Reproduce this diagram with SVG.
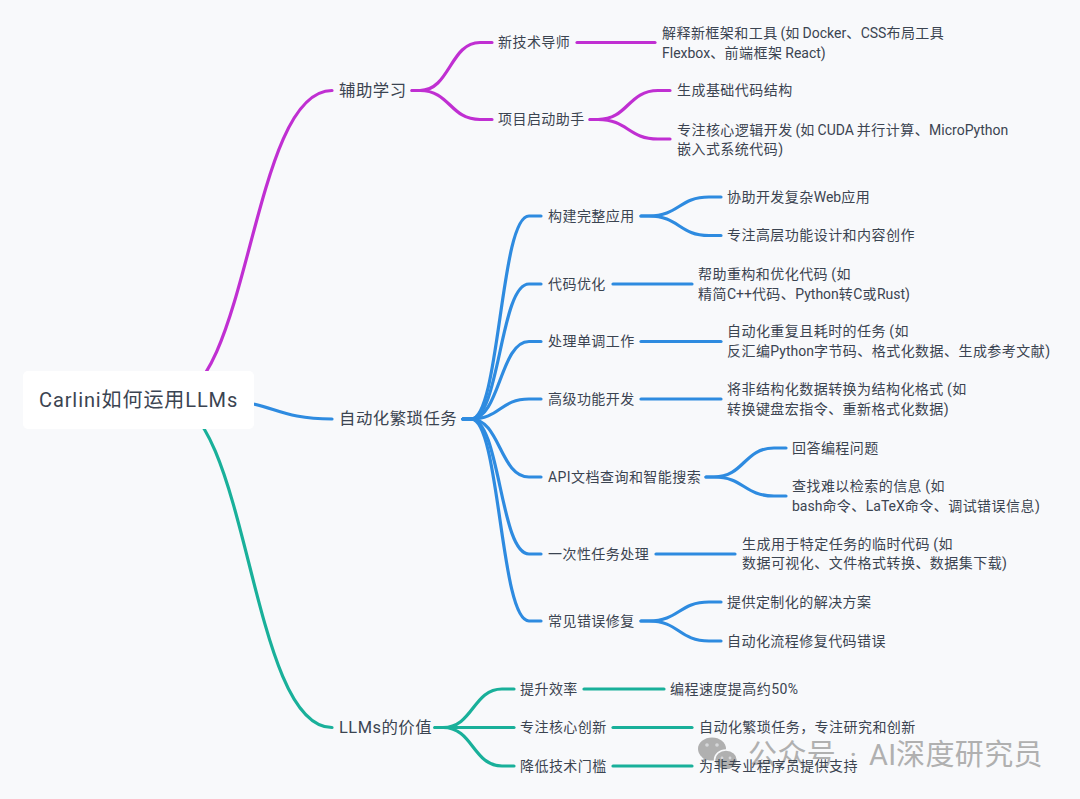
<svg xmlns="http://www.w3.org/2000/svg" width="1080" height="799" viewBox="0 0 1080 799">
<style>
text{font-family:"Roboto","Noto Sans CJK SC","Noto Sans",sans-serif;fill:#3b4451;dominant-baseline:central}
.t3{font-size:14px;letter-spacing:.45px;word-spacing:-.6px;transform:translateY(.5px)}
.t1{font-size:16.400px;letter-spacing:.5px}
.l{letter-spacing:0}
.root{font-size:20px;letter-spacing:.9px}
#edges path{fill:none;stroke-width:3.2;stroke-linecap:round}
.p{stroke:#c02fd2}
.b{stroke:#2e8be0}
.g{stroke:#19b09a}
#mark text{font-size:29px;fill:#b0b0b0;letter-spacing:.4px}
#mark .bubble{fill:#b0b0b0}
#mark .eye{fill:#d6d7d9}
</style>
<rect width="1080" height="799" fill="#f8f9fb"/>
<g id="mark">
<ellipse class="bubble" cx="712" cy="749" rx="14" ry="11.500"/>
<path class="bubble" d="M704 757l-2 6 7-4z"/>
<ellipse class="bubble" cx="726" cy="760" rx="11.500" ry="10" stroke="#f8f9fb" stroke-width="1.500"/>
<circle class="eye" cx="707" cy="745" r="1.800"/><circle class="eye" cx="717" cy="745" r="1.800"/>
<circle class="eye" cx="722" cy="758" r="1.400"/><circle class="eye" cx="730" cy="758" r="1.400"/>
<text x="748" y="755">公众号<tspan x="842"> ·</tspan><tspan x="869">AI</tspan><tspan x="896">深度研究员</tspan></text>
</g>
<g id="edges">
<!-- root to first-level branches -->
<path class="p" d="M168 400C250 400 250 90.500 332 90.500"/>
<path class="b" d="M214 400C273 400 273 419 332 419"/>
<path class="g" d="M166 400C249 400 249 727.500 332 727.500"/>
<!-- assisted learning branch -->
<path class="p" d="M412 90.500H420C450 90.500 450 42.500 480 42.500H492"/>
<path class="p" d="M412 90.500H420C450 90.500 450 119.500 480 119.500H492"/>
<path class="p" d="M577 42.500H655"/>
<path class="p" d="M590 119.500H598C628 119.500 628 90.500 658 90.500H670"/>
<path class="p" d="M590 119.500H598C628 119.500 628 139 658 139H670"/>
<!-- automation branch -->
<path class="b" d="M463 419H471C500 419 500 216 529 216H541"/>
<path class="b" d="M463 419H471C500 419 500 284 529 284H541"/>
<path class="b" d="M463 419H471C500 419 500 341.500 529 341.500H541"/>
<path class="b" d="M463 419H471C500 419 500 399 529 399H541"/>
<path class="b" d="M463 419H471C500 419 500 477 529 477H541"/>
<path class="b" d="M463 419H471C500 419 500 554 529 554H541"/>
<path class="b" d="M463 419H471C500 419 500 621 529 621H541"/>
<path class="b" d="M641 216H649C679 216 679 197 709 197H721"/>
<path class="b" d="M641 216H649C679 216 679 235.500 709 235.500H721"/>
<path class="b" d="M613 284H692"/>
<path class="b" d="M641 341.500H721"/>
<path class="b" d="M641 399H721"/>
<path class="b" d="M706 477H714C744 477 744 448 774 448H786"/>
<path class="b" d="M706 477H714C744 477 744 496 774 496H786"/>
<path class="b" d="M656 554H735"/>
<path class="b" d="M641 621H649C679 621 679 602 709 602H721"/>
<path class="b" d="M641 621H649C679 621 679 641 709 641H721"/>
<!-- value branch -->
<path class="g" d="M435 727.500H443C473 727.500 473 689 502 689H514"/>
<path class="g" d="M435 727.500H514"/>
<path class="g" d="M435 727.500H443C473 727.500 473 766 502 766H514"/>
<path class="g" d="M584 689H664"/>
<path class="g" d="M613 727.500H692"/>
<path class="g" d="M613 766H692"/>
</g>
<g id="root"><rect x="23" y="371" width="231" height="58" rx="5" fill="#fff"/><text class="root" x="39" y="399.500">Carlini如何运用LLMs</text></g>
<g id="n-learn"><text class="t1" x="339" y="90.500">辅助学习</text></g>
<g id="n-mentor"><text class="t3" x="498" y="41.500">新技术导师</text></g>
<g id="n-mentor-1"><text class="t3" x="662" y="32">解释新框架和工具<tspan class="l"> (</tspan>如<tspan class="l"> Docker</tspan>、<tspan class="l">CSS</tspan>布局工具</text><text class="t3" x="662" y="52"><tspan class="l">Flexbox</tspan>、前端框架<tspan class="l"> React)</tspan></text></g>
<g id="n-start"><text class="t3" x="498" y="118.500">项目启动助手</text></g>
<g id="n-start-1"><text class="t3" x="677" y="89.500">生成基础代码结构</text></g>
<g id="n-start-2"><text class="t3" x="677" y="129">专注核心逻辑开发<tspan class="l"> (</tspan>如<tspan class="l"> CUDA </tspan>并行计算、<tspan class="l">MicroPython</tspan></text><text class="t3" x="677" y="148">嵌入式系统代码)</text></g>
<g id="n-auto"><text class="t1" x="339" y="418.500">自动化繁琐任务</text></g>
<g id="n-app"><text class="t3" x="548" y="215">构建完整应用</text></g>
<g id="n-app-1"><text class="t3" x="727" y="196">协助开发复杂<tspan class="l">Web</tspan>应用</text></g>
<g id="n-app-2"><text class="t3" x="727" y="234.500">专注高层功能设计和内容创作</text></g>
<g id="n-opt"><text class="t3" x="548" y="283">代码优化</text></g>
<g id="n-opt-1"><text class="t3" x="698" y="273">帮助重构和优化代码 (如</text><text class="t3" x="698" y="293">精简<tspan class="l">C++</tspan>代码、<tspan class="l">Python</tspan>转<tspan class="l">C</tspan>或<tspan class="l">Rust)</tspan></text></g>
<g id="n-dull"><text class="t3" x="548" y="340.500">处理单调工作</text></g>
<g id="n-dull-1"><text class="t3" x="727" y="330.500">自动化重复且耗时的任务 (如</text><text class="t3" x="727" y="350.500">反汇编<tspan class="l">Python</tspan>字节码、格式化数据、生成参考文献)</text></g>
<g id="n-adv"><text class="t3" x="548" y="398">高级功能开发</text></g>
<g id="n-adv-1"><text class="t3" x="727" y="388">将非结构化数据转换为结构化格式 (如</text><text class="t3" x="727" y="408">转换键盘宏指令、重新格式化数据)</text></g>
<g id="n-api"><text class="t3" x="548" y="476">API文档查询和智能搜索</text></g>
<g id="n-api-1"><text class="t3" x="792" y="447">回答编程问题</text></g>
<g id="n-api-2"><text class="t3" x="792" y="485">查找难以检索的信息 (如</text><text class="t3" x="792" y="505"><tspan class="l">bash</tspan>命令、<tspan class="l">LaTeX</tspan>命令、调试错误信息<tspan class="l">)</tspan></text></g>
<g id="n-once"><text class="t3" x="548" y="553">一次性任务处理</text></g>
<g id="n-once-1"><text class="t3" x="742" y="543">生成用于特定任务的临时代码 (如</text><text class="t3" x="742" y="562.500">数据可视化、文件格式转换、数据集下载)</text></g>
<g id="n-fix"><text class="t3" x="548" y="620">常见错误修复</text></g>
<g id="n-fix-1"><text class="t3" x="727" y="601">提供定制化的解决方案</text></g>
<g id="n-fix-2"><text class="t3" x="727" y="640">自动化流程修复代码错误</text></g>
<g id="n-value"><text class="t1" x="339" y="727">LLMs的价值</text></g>
<g id="n-eff"><text class="t3" x="520" y="688">提升效率</text></g>
<g id="n-eff-1"><text class="t3" x="670" y="688">编程速度提高约50%</text></g>
<g id="n-core"><text class="t3" x="520" y="726.500">专注核心创新</text></g>
<g id="n-core-1"><text class="t3" x="699" y="726.500">自动化繁琐任务，专注研究和创新</text></g>
<g id="n-bar"><text class="t3" x="520" y="765">降低技术门槛</text></g>
<g id="n-bar-1"><text class="t3" x="699" y="765">为非专业程序员提供支持</text></g>
</svg>
